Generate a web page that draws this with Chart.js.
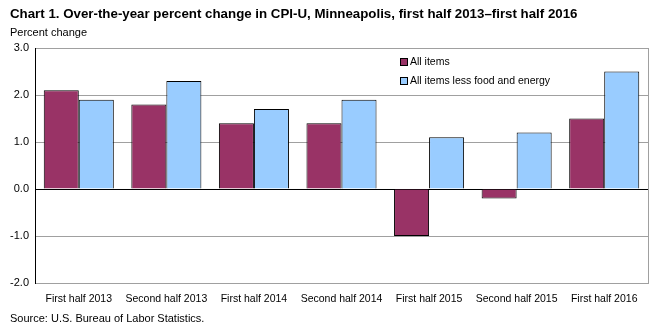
<!DOCTYPE html>
<html>
<head>
<meta charset="utf-8">
<script src="https://cdn.jsdelivr.net/npm/chart.js@4"></script>
<style>
  body { margin: 0; background: #fff; font-family: "Liberation Sans", Arial, sans-serif; }
  #wrap { position: relative; width: 659px; height: 326px; }
  canvas { position: absolute; left: 0; top: 0; }
  .txt { position: absolute; white-space: nowrap; color: #000; }
  #title { left: 10px; top: 6px; font-size: 13.3px; font-weight: bold; }
  #ylab { left: 10px; top: 26px; font-size: 11px; }
  #source { left: 10px; top: 312px; font-size: 11px; }
</style>
</head>
<body>
<div id="wrap">
  <canvas id="chart" width="659" height="326"></canvas>
  <div class="txt" id="title">Chart 1. Over-the-year percent change in CPI-U, Minneapolis, first half 2013–first half 2016</div>
  <div class="txt" id="ylab">Percent change</div>
  <div class="txt" id="source">Source: U.S. Bureau of Labor Statistics.</div>
</div>
<script>
const periods = ["First half 2013", "Second half 2013", "First half 2014", "Second half 2014",
                 "First half 2015", "Second half 2015", "First half 2016"];
const allItems = [2.1, 1.8, 1.4, 1.4, -1.0, -0.2, 1.5];
const coreItems = [1.9, 2.3, 1.7, 1.9, 1.1, 1.2, 2.5];
const seriesNames = ["All items", "All items less food and energy"];

// legend drawn inside the plot, plus the grey right border
const extras = {
  id: "extras",
  afterDraw(chart) {
    const ctx = chart.ctx;
    const a = chart.chartArea;
    ctx.save();
    ctx.strokeStyle = "#a0a0a0";
    ctx.lineWidth = 1;
    ctx.beginPath();
    ctx.moveTo(a.right + 0.5, a.top);
    ctx.lineTo(a.right + 0.5, a.bottom);
    ctx.stroke();

    ctx.font = "10.5px 'Liberation Sans', Arial, sans-serif";
    ctx.textBaseline = "middle";
    chart.data.datasets.forEach((ds, i) => {
      const y = 62 + i * 19;
      ctx.fillStyle = ds.backgroundColor;
      ctx.fillRect(400, y - 4, 8, 8);
      ctx.strokeStyle = "#000";
      ctx.strokeRect(400.5, y - 3.5, 7, 7);
      ctx.fillStyle = "#000";
      ctx.fillText(ds.label, 410, y);
    });
    ctx.restore();
  }
};

new Chart(document.getElementById("chart"), {
  type: "bar",
  data: {
    labels: periods,
    datasets: [
      { label: seriesNames[0], data: allItems, backgroundColor: "#993366", borderColor: "#000", borderWidth: 1 },
      { label: seriesNames[1], data: coreItems, backgroundColor: "#99ccff", borderColor: "#000", borderWidth: 1 }
    ]
  },
  options: {
    responsive: false,
    animation: false,
    layout: { padding: { top: 48, right: 11, left: 0, bottom: 0 } },
    plugins: { legend: { display: false }, tooltip: { enabled: false } },
    datasets: { bar: { categoryPercentage: 0.8, barPercentage: 1.0 } },
    scales: {
      x: {
        grid: { display: false },
        border: { color: "#a0a0a0" },
        ticks: {
          color: "#000", font: { size: 10.5, family: "'Liberation Sans', Arial, sans-serif" },
          maxRotation: 0, autoSkip: false, padding: 2
        },
        afterFit: (s) => { s.height = 43; }
      },
      y: {
        min: -2, max: 3,
        ticks: {
          stepSize: 1, color: "#000", padding: 6,
          font: { size: 11, family: "'Liberation Sans', Arial, sans-serif" },
          callback: (v) => v.toFixed(1)
        },
        grid: {
          drawTicks: false,
          color: (c) => c.tick && c.tick.value === 0 ? "#000" : "#a0a0a0"
        },
        border: { color: "#000" },
        afterFit: (s) => { s.width = 35; }
      }
    }
  },
  plugins: [extras]
});
</script>
</body>
</html>
